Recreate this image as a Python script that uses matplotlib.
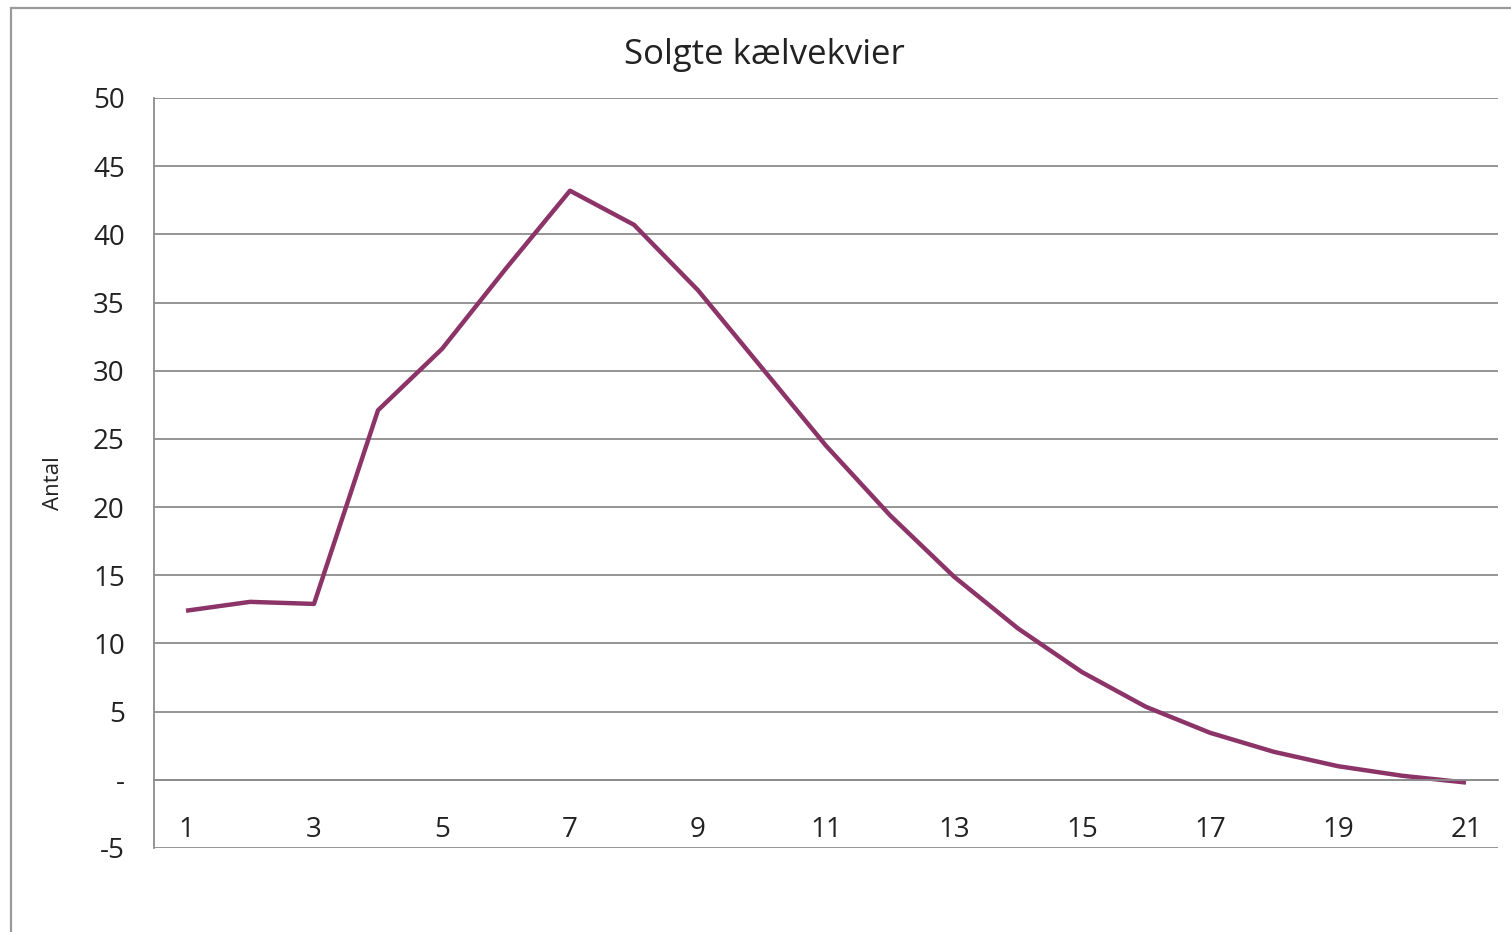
import matplotlib
matplotlib.use("Agg")
import matplotlib.pyplot as plt
from matplotlib.patches import Rectangle

periods = list(range(1, 22))
antal = [12.4, 13.05, 12.9, 27.1, 31.6, 37.5, 43.2, 40.7, 35.9, 30.2, 24.5,
         19.4, 14.9, 11.1, 7.9, 5.35, 3.45, 2.05, 1.0, 0.3, -0.2]
y_ticks = [-5, 0, 5, 10, 15, 20, 25, 30, 35, 40, 45, 50]
y_labels = ["-5", "-", "5", "10", "15", "20", "25", "30", "35", "40", "45", "50"]
x_ticks = list(range(1, 22, 2))
title = "Solgte kælvekvier"
ylabel = "Antal"

plt.rcParams['font.family'] = ['Open Sans', 'DejaVu Sans']

fig = plt.figure(figsize=(15.11, 9.32), dpi=100)
fig.patches.append(Rectangle((11 / 1511, -0.05), 1.2, 1 - 8 / 932 + 0.05,
                             transform=fig.transFigure, fill=False,
                             edgecolor='#9a9a9a', linewidth=1.6))
ax = fig.add_axes([154 / 1511, 1 - 848 / 932, (1498 - 154) / 1511, (848 - 98) / 932])

ax.plot(periods, antal, color='#8C3468', linewidth=3.2, solid_capstyle='butt')

ax.set_xlim(0.5, 21.5)
ax.set_ylim(-5, 50)
ax.set_yticks(y_ticks)
ax.set_yticklabels(y_labels)
ax.yaxis.grid(True, color='#8c8c8c', linewidth=1.3)
ax.set_axisbelow(True)

ax.spines['top'].set_visible(False)
ax.spines['right'].set_visible(False)
ax.spines['left'].set_color('#8c8c8c')
ax.spines['left'].set_linewidth(1.3)
ax.spines['bottom'].set_position(('data', 0))
ax.spines['bottom'].set_color('#8c8c8c')
ax.spines['bottom'].set_linewidth(1.3)

ax.set_xticks(x_ticks)
ax.set_xticklabels([str(v) for v in x_ticks])
ax.tick_params(axis='x', length=0, pad=26, labelsize=20, labelcolor='#222222')
ax.tick_params(axis='y', length=0, pad=21, labelsize=20, labelcolor='#222222')

ax.set_ylabel(ylabel, fontsize=16, color='#222222')
ax.yaxis.set_label_coords(-(154 - 64) / 1344, (848 - 483) / 750)

fig.text(764 / 1511, 1 - 55 / 932, title, ha='center', va='center', fontsize=25, color='#222222')

fig.savefig("out.png", dpi=100)
